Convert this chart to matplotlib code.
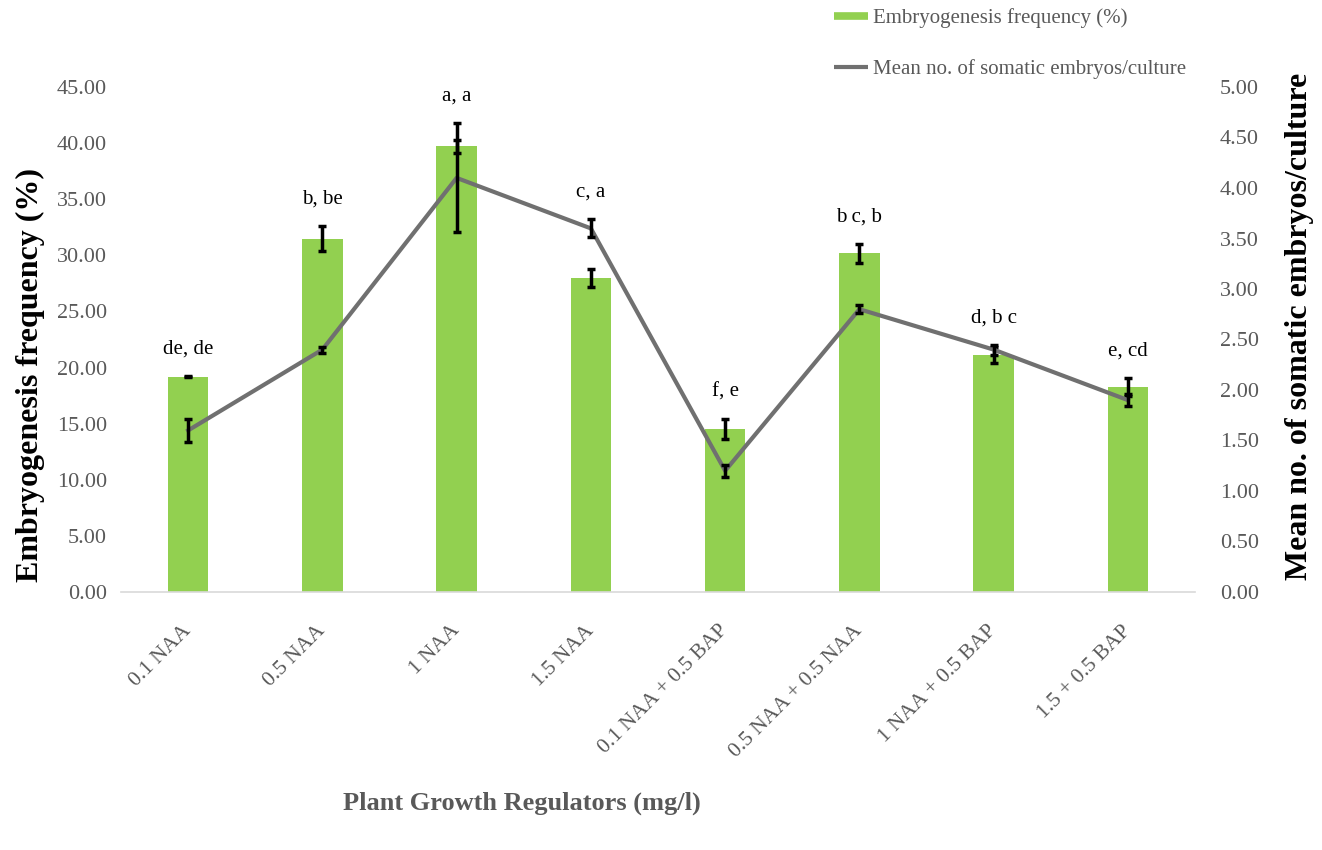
import matplotlib
matplotlib.use("Agg")
import matplotlib.pyplot as plt
from matplotlib.lines import Line2D
import numpy as np

categories = ["0.1 NAA", "0.5 NAA", "1 NAA", "1.5 NAA", "0.1 NAA + 0.5 BAP",
              "0.5 NAA + 0.5 NAA", "1 NAA + 0.5 BAP", "1.5 + 0.5 BAP"]
freq = [19.2, 31.5, 39.7, 28.0, 14.5, 30.2, 21.1, 18.3]
freq_err = [0.05, 1.1, 0.55, 0.8, 0.9, 0.85, 0.7, 0.8]
embryos = [1.6, 2.4, 4.1, 3.6, 1.2, 2.8, 2.4, 1.9]
embryos_err = [0.11, 0.03, 0.54, 0.09, 0.06, 0.04, 0.05, 0.06]
letters = ["de, de", "b, be", "a, a", "c, a", "f, e", "b c, b", "d, b c", "e, cd"]
left_ticks = [0, 5, 10, 15, 20, 25, 30, 35, 40, 45]
right_ticks = [0, 0.5, 1, 1.5, 2, 2.5, 3, 3.5, 4, 4.5, 5]

plt.rcParams['font.family'] = ['Liberation Serif', 'DejaVu Serif']

GREEN = '#92D050'
LINEC = '#707070'
TXT = '#595959'

fig = plt.figure(figsize=(13.22, 8.5), dpi=100)
ax = fig.add_axes([121/1322, 1-592/850, (1195-121)/1322, (592-87)/850])
x = np.arange(len(categories))

ax.bar(x, freq, width=0.3, color=GREEN, zorder=2)
ax.errorbar(x, freq, yerr=freq_err, fmt='none', ecolor='black', elinewidth=2.5,
            capsize=3, capthick=2.5, zorder=5)
ax.set_xlim(-0.5, len(categories) - 0.5)
ax.set_ylim(0, 45)
ax.set_yticks(left_ticks)
ax.set_yticklabels([f"{v:.2f}" for v in left_ticks])
for s in ['top', 'left', 'right']:
    ax.spines[s].set_visible(False)
ax.spines['bottom'].set_color('#d9d9d9')
ax.spines['bottom'].set_linewidth(1.2)
ax.tick_params(axis='y', length=0, labelsize=16, labelcolor=TXT, pad=10)
ax.tick_params(axis='x', length=0, labelsize=15.5, labelcolor=TXT, pad=26)
ax.set_xticks(x)
ax.set_xticklabels(categories, rotation=45, ha='right', va='center',
                   rotation_mode='anchor')
for lab in ax.get_xticklabels():
    lab.set_x(lab.get_position()[0])

ax.set_ylabel("Embryogenesis frequency (%)", fontsize=23, fontweight='bold', color='black')
ax.yaxis.set_label_coords(-0.071, 0.43)

ax2 = ax.twinx()
ax2.plot(x, embryos, color=LINEC, lw=3, zorder=3)
ax2.errorbar(x, embryos, yerr=embryos_err, fmt='none', ecolor='black', elinewidth=2.5,
             capsize=3, capthick=2.5, zorder=5)
ax2.set_ylim(0, 5)
ax2.set_yticks(right_ticks)
ax2.set_yticklabels([f"{v:.2f}" for v in right_ticks])
for s in ['top', 'left', 'right', 'bottom']:
    ax2.spines[s].set_visible(False)
ax2.tick_params(axis='y', length=0, labelsize=16, labelcolor=TXT, pad=18)
ax2.set_ylabel("Mean no. of somatic embryos/culture", fontsize=23, fontweight='bold',
               color='black')
ax2.yaxis.set_label_coords(1.084, 0.525)

# significance letters above the highest mark of each group
scale = 45 / 5
for i, lab in enumerate(letters):
    top = max(freq[i] + freq_err[i], (embryos[i] + embryos_err[i]) * scale)
    ax.text(x[i], top + 2.4, lab, ha='center', va='center', fontsize=15,
            color='black', zorder=6)

fig.text(522/1322, 1-803/850, "Plant Growth Regulators (mg/l)", ha='center', va='center',
         fontsize=19, fontweight='bold', color=TXT)

handles = [Line2D([0], [0], color=GREEN, lw=5.5, solid_capstyle='butt'),
           Line2D([0], [0], color=LINEC, lw=3, solid_capstyle='butt')]
leg = fig.legend(handles, ["Embryogenesis frequency (%)", "Mean no. of somatic embryos/culture"],
                 loc='upper left', bbox_to_anchor=(826/1322, 1.0), frameon=False,
                 borderaxespad=0.0, fontsize=15, labelspacing=1.5, handlelength=1.6,
                 handletextpad=0.25)
for t in leg.get_texts():
    t.set_color(TXT)

fig.savefig("out.png", dpi=100)
